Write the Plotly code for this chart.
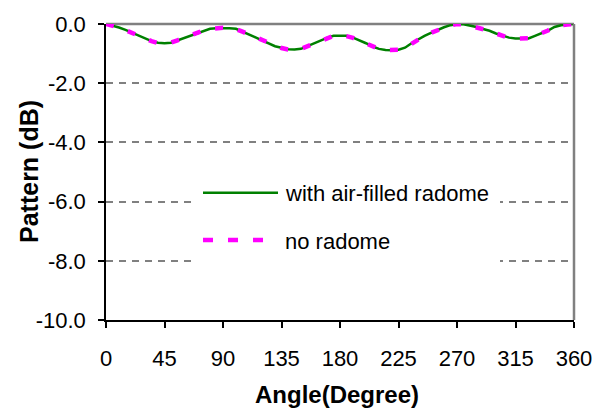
import plotly.graph_objects as go

# Angle in degrees, 5-degree steps
angle = list(range(0, 361, 5))

# Pattern (dB) with the air-filled radome in place
with_radome = [
    0.00, -0.05, -0.12, -0.20, -0.30, -0.40, -0.50, -0.58, -0.63, -0.65,
    -0.63, -0.55, -0.46, -0.38, -0.30, -0.22, -0.16, -0.14, -0.13, -0.14,
    -0.16, -0.25, -0.35, -0.45, -0.55, -0.65, -0.75, -0.80, -0.85, -0.86,
    -0.84, -0.75, -0.65, -0.55, -0.47, -0.40, -0.39, -0.40, -0.46, -0.55,
    -0.65, -0.76, -0.84, -0.88, -0.89, -0.87, -0.80, -0.65, -0.52, -0.40,
    -0.30, -0.20, -0.11, -0.04, 0.00, -0.01, -0.05, -0.10, -0.17, -0.23,
    -0.32, -0.40, -0.46, -0.49, -0.50, -0.49, -0.40, -0.32, -0.22, -0.10,
    -0.04, -0.02, 0.00,
]

# Pattern (dB) without radome
no_radome = [
    0.00, -0.05, -0.12, -0.21, -0.31, -0.40, -0.50, -0.58, -0.64, -0.65,
    -0.63, -0.55, -0.46, -0.38, -0.30, -0.22, -0.16, -0.14, -0.13, -0.14,
    -0.17, -0.26, -0.35, -0.45, -0.56, -0.66, -0.75, -0.81, -0.86, -0.87,
    -0.84, -0.75, -0.66, -0.55, -0.47, -0.40, -0.39, -0.41, -0.47, -0.56,
    -0.66, -0.77, -0.84, -0.88, -0.89, -0.87, -0.81, -0.66, -0.52, -0.40,
    -0.30, -0.20, -0.11, -0.04, 0.00, -0.01, -0.06, -0.11, -0.17, -0.23,
    -0.32, -0.40, -0.47, -0.49, -0.50, -0.48, -0.40, -0.32, -0.22, -0.10,
    -0.04, -0.02, 0.00,
]

x_ticks = [0, 45, 90, 135, 180, 225, 270, 315, 360]
y_ticks = [0, -2, -4, -6, -8, -10]
y_tick_text = ["0.0", "-2.0", "-4.0", "-6.0", "-8.0", "-10.0"]

series_names = ["with air-filled radome", "no radome"]

FONT = "Liberation Sans, Arial, sans-serif"
GREEN = "#008000"
MAGENTA = "#FF00FF"
GRAY = "#808080"

fig = go.Figure()
fig.add_trace(go.Scatter(
    x=angle, y=with_radome, mode="lines", name=series_names[0],
    line=dict(color=GREEN, width=2.5), cliponaxis=False, showlegend=False,
))
fig.add_trace(go.Scatter(
    x=angle, y=no_radome, mode="lines", name=series_names[1],
    line=dict(color=MAGENTA, width=4.5, dash="8px,15px"),
    cliponaxis=False, showlegend=False,
))

# plot-area geometry in pixels, used to place the legend box
L, R, T, B = 106, 574, 20, 320
W, H = R - L, B - T


def px(x):
    return (x - L) / W


def py(y):
    return (B - y) / H


shapes = [
    # gray frame on top and right
    dict(type="line", xref="paper", yref="paper", x0=0, x1=1, y0=1, y1=1,
         line=dict(color=GRAY, width=2.5), layer="below"),
    dict(type="line", xref="paper", yref="paper", x0=1, x1=1, y0=0, y1=1,
         line=dict(color=GRAY, width=2.5), layer="above"),
    # legend background, hides the grid behind the entries
    dict(type="rect", xref="paper", yref="paper",
         x0=px(192), x1=px(500), y0=py(266), y1=py(166),
         fillcolor="white", line=dict(width=0), layer="above"),
    # legend samples
    dict(type="line", xref="paper", yref="paper",
         x0=px(203), x1=px(278), y0=py(191), y1=py(191),
         line=dict(color=GREEN, width=2.5), layer="above"),
    dict(type="line", xref="paper", yref="paper",
         x0=px(203), x1=px(263), y0=py(239), y1=py(239),
         line=dict(color=MAGENTA, width=4.5, dash="10px,15px"), layer="above"),
]

annotations = [
    dict(text=series_names[0], xref="paper", yref="paper", x=px(283), y=py(192),
         xanchor="left", yanchor="middle", showarrow=False,
         font=dict(family=FONT, size=22, color="black")),
    dict(text=series_names[1], xref="paper", yref="paper", x=px(283), y=py(240),
         xanchor="left", yanchor="middle", showarrow=False,
         font=dict(family=FONT, size=22, color="black")),
    dict(text="<b>Angle(Degree)</b>", xref="paper", yref="paper",
         x=px(337), y=py(396), xanchor="center", yanchor="middle",
         showarrow=False, font=dict(family=FONT, size=24, color="black")),
    dict(text="<b>Pattern (dB)</b>", xref="paper", yref="paper",
         x=px(29), y=py(170), xanchor="center", yanchor="middle",
         showarrow=False, textangle=-90,
         font=dict(family=FONT, size=25, color="black")),
]

fig.update_layout(
    width=606, height=411,
    margin=dict(l=L, r=606 - R, t=T, b=411 - B),
    paper_bgcolor="white", plot_bgcolor="white",
    font=dict(family=FONT, size=22, color="black"),
    shapes=shapes, annotations=annotations,
    showlegend=False,
)
fig.update_xaxes(
    range=[0, 360], tickvals=x_ticks, ticks="outside", ticklen=6,
    tickwidth=1.5, tickcolor="black", showline=True, linecolor="black",
    linewidth=1.5, showgrid=False, zeroline=False, ticklabelstandoff=12,
)
fig.update_yaxes(
    range=[-10, 0], tickvals=y_ticks, ticktext=y_tick_text, ticks="outside",
    ticklen=6, tickwidth=1.5, tickcolor="black", showline=True,
    linecolor="black", linewidth=1.5, showgrid=True, gridcolor=GRAY,
    gridwidth=1.5, griddash="7px,6px", zeroline=False, ticklabelstandoff=8,
)

fig.write_html("out.html")
